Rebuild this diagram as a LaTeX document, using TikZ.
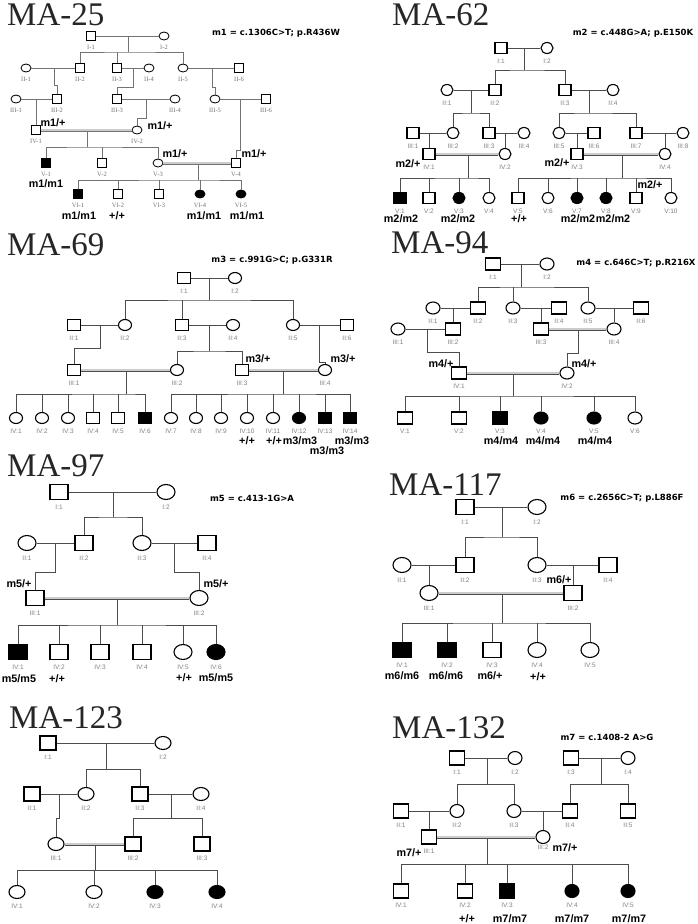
\documentclass[tikz,border=0pt]{standalone}
\usepackage{fontspec}
\setmainfont{Liberation Serif}
\newfontfamily\labsans{Liberation Sans}
\newfontfamily\mutsans{DejaVu Sans}
\usetikzlibrary{shapes.geometric,positioning}

% symbol sizes, set again in every pedigree
\def\sw{12pt}\def\sh{11pt}\def\cw{12pt}\def\ch{11pt}

\tikzset{
  ped/.style={draw=black, line width=1.1pt, inner sep=0pt},
  msq/.style={ped, rectangle, minimum width=\sw, minimum height=\sh},
  fcir/.style={ped, ellipse, minimum width=\cw, minimum height=\ch},
  aff/.style={fill=black},
  link/.style={draw=black!70, line width=0.9pt},
  dbl/.style={link, double=black!20, double distance=1.6pt, line width=0.7pt},
  gen/.style={font=\labsans\fontsize{6.5}{7}\selectfont, text=black!50, inner sep=0.5pt},
  genA/.style={font=\fontsize{6.5}{7}\selectfont, text=black!55, inner sep=0.5pt},
  geno/.style={font=\labsans\bfseries\fontsize{10.8}{12}\selectfont, inner sep=0pt},
  mut/.style={font=\mutsans\bfseries\fontsize{8.5}{10}\selectfont, inner sep=0pt},
  ptitle/.style={font=\fontsize{33}{34}\selectfont, text=black!85, inner sep=0pt, anchor=base west},
  every label/.style={gen}
}

\begin{document}
\begin{tikzpicture}[x=1pt, y=-1pt, label distance=4pt]
\useasboundingbox (0,0) rectangle (697,924);
\fill[white] (0,0) rectangle (697,924);

% MA-25
\begin{scope}[every label/.style={genA}, ped/.append style={line width=0.8pt}, link/.append style={draw=black!55, line width=0.7pt}]
\def\sw{8.5pt}\def\sh{8.5pt}\def\cw{10pt}\def\ch{8pt}
\node[ptitle] (tA) at (7,25) {MA-25};
\node[mut] (mA) at (276,33) {m1 = c.1306C>T; p.R436W};
\node[msq, label=below:{I-1}] (AI1) at (91,36) {};
\node[fcir, label=below:{I-2}] (AI2) at (164,36) {};
\node[fcir, label=below:{II-1}] (AII1) at (26,68) {};
\node[msq, label=below:{II-2}] (AII2) at (80,68) {};
\node[msq, label=below:{II-3}] (AII3) at (117,68) {};
\node[fcir, label=below:{II-4}] (AII4) at (149,68) {};
\node[fcir, label=below:{II-5}] (AII5) at (183,68) {};
\node[msq, label=below:{II-6}] (AII6) at (239,68) {};
\node[fcir, label=below:{III-1}] (AIII1) at (16,99) {};
\node[msq, label=below:{III-2}] (AIII2) at (57,99) {};
\node[msq, label=below:{III-3}] (AIII3) at (117,99) {};
\node[fcir, label=below:{III-4}] (AIII4) at (175,99) {};
\node[fcir, label=below:{III-5}] (AIII5) at (215,99) {};
\node[msq, label=below:{III-6}] (AIII6) at (266,99) {};
\node[msq, label=below:{IV-1}] (AIV1) at (36,130) {};
\node[fcir, label=below:{IV-2}] (AIV2) at (137,130) {};
\node[msq, aff, label=below:{V-1}] (AV1) at (46,163) {};
\node[msq, label=below:{V-2}] (AV2) at (102,163) {};
\node[fcir, label=below:{V-3}] (AV3) at (158,163) {};
\node[msq, label=below:{V-4}] (AV4) at (236,163) {};
\node[msq, aff, label=below:{VI-1}] (AVI1) at (78,194) {};
\node[msq, label=below:{VI-2}] (AVI2) at (118,194) {};
\node[msq, label=below:{VI-3}] (AVI3) at (159,194) {};
\node[fcir, aff, label=below:{VI-4}] (AVI4) at (200,194) {};
\node[fcir, aff, label=below:{VI-5}] (AVI5) at (241,194) {};
\coordinate (Am1) at (128,36); \coordinate (As1) at (128,52);
\coordinate (Am2) at (54,68); \coordinate (Aj2) at (54,85);
\coordinate (Am3) at (133,68); \coordinate (Aj3) at (133,87);
\coordinate (Am4) at (212,68); \coordinate (Aj4) at (212,87);
\coordinate (Am5) at (36,99);
\coordinate (Am6) at (146,99); \coordinate (Aj6) at (146,118);
\coordinate (Am7) at (240,99); \coordinate (Aj7) at (240,150);
\coordinate (Am8) at (87,130); \coordinate (As8) at (87,147);
\coordinate (Am9) at (198,163); \coordinate (As9) at (198,180);
\draw[link] (AI1) -- (AI2);
\draw[link] (Am1) -- (As1);
\draw[link] (AII2.north) |- (As1) -| (AII5.north);
\draw[link] (AII3.north) -- (AII3.north |- As1);
\draw[link] (AII1) -- (AII2);
\draw[link] (Am2) -- (Aj2) -| (AIII2);
\draw[link] (AII3) -- (AII4);
\draw[link] (Am3) -- (Aj3) -| (AIII3);
\draw[link] (AII5) -- (AII6);
\draw[link] (Am4) -- (Aj4) -| (AIII5);
\draw[link] (AIII1) -- (AIII2);
\draw[link] (Am5) -- (AIV1);
\draw[link] (AIII3) -- (AIII4);
\draw[link] (Am6) -- (Aj6) -| (AIV2);
\draw[link] (AIII5) -- (AIII6);
\draw[link] (Am7) -- (Aj7) -| (AV4);
\draw[link] (Am8) -- (As8);
\draw[link] (AV1.north) |- (As8) -| (AV3.north);
\draw[link] (AV2.north) -- (AV2.north |- As8);
\draw[link] (Am9) -- (As9);
\draw[link] (AVI1.north) |- (As9) -| (AVI5.north);
\foreach \k in {AVI2,AVI3,AVI4} \draw[link] (\k.north) -- (\k.north |- As9);
\draw[dbl] (AIV1) -- (AIV2);
\draw[dbl] (AV3) -- (AV4);
\node[geno] (gA1) at (53,123) {m1/+};
\node[geno] (gA2) at (160,126) {m1/+};
\node[geno] (gA3) at (175,154) {m1/+};
\node[geno] (gA4) at (254,154) {m1/+};
\node[geno] (gA5) at (46,184) {m1/m1};
\node[geno] (gA6) at (79,216) {m1/m1};
\node[geno] (gA7) at (117,216) {+/+};
\node[geno] (gA8) at (204,216) {m1/m1};
\node[geno] (gA9) at (247,216) {m1/m1};
\end{scope}

% MA-62
\begin{scope}
\def\sw{12pt}\def\sh{11pt}\def\cw{12pt}\def\ch{11pt}
\node[ptitle] (tB) at (392,25) {MA-62};
\node[mut] (mB) at (633,33) {m2 = c.448G>A; p.E150K};
\node[msq, label=below:{I:1}] (BI1) at (501,48) {};
\node[fcir, label=below:{I:2}] (BI2) at (547,48) {};
\node[fcir, label=below:{II:1}] (BII1) at (447,90) {};
\node[msq, label=below:{II:2}] (BII2) at (495,90) {};
\node[msq, label=below:{II:3}] (BII3) at (565,90) {};
\node[fcir, label=below:{II:4}] (BII4) at (613,90) {};
\node[msq, label=below:{III:1}] (BIII1) at (413,133) {};
\node[fcir, label=below:{III:2}] (BIII2) at (453,133) {};
\node[msq, label=below:{III:3}] (BIII3) at (489,133) {};
\node[fcir, label=below:{III:4}] (BIII4) at (524,133) {};
\node[fcir, label=below:{III:5}] (BIII5) at (559,133) {};
\node[msq, label=below:{III:6}] (BIII6) at (594,133) {};
\node[msq, label=below:{III:7}] (BIII7) at (636,133) {};
\node[fcir, label=below:{III:8}] (BIII8) at (683,133) {};
\node[msq, label=below:{IV:1}] (BIV1) at (429,154) {};
\node[fcir, label=below:{IV:2}] (BIV2) at (505,154) {};
\node[msq, label=below:{IV:3}] (BIV3) at (577,154) {};
\node[fcir, label=below:{IV:4}] (BIV4) at (665,154) {};
\node[msq, aff, label=below:{V:1}] (BV1) at (400,198) {};
\node[msq, label=below:{V:2}] (BV2) at (429,198) {};
\node[fcir, aff, label=below:{V:3}] (BV3) at (459,198) {};
\node[fcir, label=below:{V:4}] (BV4) at (489,198) {};
\node[msq, label=below:{V:5}] (BV5) at (518,198) {};
\node[fcir, label=below:{V:6}] (BV6) at (548,198) {};
\node[fcir, aff, label=below:{V:7}] (BV7) at (577,198) {};
\node[fcir, aff, label=below:{V:8}] (BV8) at (606,198) {};
\node[msq, label=below:{V:9}] (BV9) at (636,198) {};
\node[fcir, label=below:{V:10}] (BV10) at (671,198) {};
\coordinate (Bm1) at (524,48); \coordinate (Bs1) at (524,70);
\coordinate (Bm2) at (471,90); \coordinate (Bs2) at (471,113);
\coordinate (Bm3) at (589,90); \coordinate (Bs3) at (589,113);
\coordinate (Bm4) at (429,133);
\coordinate (Bm5) at (505,133);
\coordinate (Bm6) at (577,133);
\coordinate (Bm7) at (665,133);
\coordinate (Bm8) at (468,154); \coordinate (Bs8) at (468,178);
\coordinate (Bm9) at (622,154); \coordinate (Bs9) at (622,178);
\draw[link] (BI1) -- (BI2);
\draw[link] (Bm1) -- (Bs1);
\draw[link] (BII2.north) |- (Bs1) -| (BII3.north);
\draw[link] (BII1) -- (BII2);
\draw[link] (Bm2) -- (Bs2);
\draw[link] (BIII2.north) |- (Bs2) -| (BIII3.north);
\draw[link] (BII3) -- (BII4);
\draw[link] (Bm3) -- (Bs3);
\draw[link] (BIII5.north) |- (Bs3) -| (BIII7.north);
\draw[link] (BIII1) -- (BIII2);
\draw[link] (Bm4) -- (BIV1);
\draw[link] (BIII3) -- (BIII4);
\draw[link] (Bm5) -- (BIV2);
\draw[link] (BIII5) -- (BIII6);
\draw[link] (Bm6) -- (BIV3);
\draw[link] (BIII7) -- (BIII8);
\draw[link] (Bm7) -- (BIV4);
\draw[link] (Bm8) -- (Bs8);
\draw[link] (BV1.north) |- (Bs8) -| (BV4.north);
\foreach \k in {BV2,BV3} \draw[link] (\k.north) -- (\k.north |- Bs8);
\draw[link] (Bm9) -- (Bs9);
\draw[link] (BV5.north) |- (Bs9) -| (BV10.north);
\foreach \k in {BV6,BV7,BV8,BV9} \draw[link] (\k.north) -- (\k.north |- Bs9);
\draw[dbl] (BIV1) -- (BIV2);
\draw[dbl] (BIV3) -- (BIV4);
\node[geno] (gB1) at (408,164) {m2/+};
\node[geno] (gB2) at (557,163) {m2/+};
\node[geno] (gB3) at (650,185) {m2/+};
\node[geno] (gB4) at (401,219) {m2/m2};
\node[geno] (gB5) at (458,219) {m2/m2};
\node[geno] (gB6) at (519,219) {+/+};
\node[geno] (gB7) at (578,219) {m2/m2};
\node[geno] (gB8) at (613,219) {m2/m2};
\end{scope}

% MA-69
\begin{scope}
\def\sw{13pt}\def\sh{11pt}\def\cw{13pt}\def\ch{11pt}
\node[ptitle] (tC) at (7,255) {MA-69};
\node[mut] (mC) at (272,260) {m3 = c.991G>C; p.G331R};
\node[msq, label=below:{I:1}] (CI1) at (184,278) {};
\node[fcir, label=below:{I:2}] (CI2) at (235,278) {};
\node[msq, label=below:{II:1}] (CII1) at (74,325) {};
\node[fcir, label=below:{II:2}] (CII2) at (125,325) {};
\node[msq, label=below:{II:3}] (CII3) at (182,325) {};
\node[fcir, label=below:{II:4}] (CII4) at (233,325) {};
\node[fcir, label=below:{II:5}] (CII5) at (293,325) {};
\node[msq, label=below:{II:6}] (CII6) at (347,325) {};
\node[msq, label=below:{III:1}] (CIII1) at (74,370) {};
\node[fcir, label=below:{III:2}] (CIII2) at (177,370) {};
\node[msq, label=below:{III:3}] (CIII3) at (242,370) {};
\node[fcir, label=below:{III:4}] (CIII4) at (325,370) {};
\node[fcir, label=below:{IV:1}] (CIV1) at (16,418) {};
\node[fcir, label=below:{IV:2}] (CIV2) at (42,418) {};
\node[fcir, label=below:{IV:3}] (CIV3) at (68,418) {};
\node[msq, label=below:{IV:4}] (CIV4) at (93,418) {};
\node[msq, label=below:{IV:5}] (CIV5) at (118,418) {};
\node[msq, aff, label=below:{IV:6}] (CIV6) at (145,418) {};
\node[fcir, label=below:{IV:7}] (CIV7) at (171,418) {};
\node[fcir, label=below:{IV:8}] (CIV8) at (196,418) {};
\node[fcir, label=below:{IV:9}] (CIV9) at (221,418) {};
\node[fcir, label=below:{IV:10}] (CIV10) at (247,418) {};
\node[fcir, label=below:{IV:11}] (CIV11) at (273,418) {};
\node[fcir, aff, label=below:{IV:12}] (CIV12) at (299,418) {};
\node[msq, aff, label=below:{IV:13}] (CIV13) at (325,418) {};
\node[msq, aff, label=below:{IV:14}] (CIV14) at (350,418) {};
\coordinate (Cm1) at (209,278); \coordinate (Cs1) at (209,300);
\coordinate (Cm2) at (100,325); \coordinate (Cj2) at (100,348);
\coordinate (Cm3) at (209,325); \coordinate (Cs3) at (209,351);
\coordinate (Cm4) at (319,325); \coordinate (Cj4) at (319,362);
\coordinate (Cm5) at (126,370); \coordinate (Cs5) at (126,394);
\coordinate (Cm6) at (283,370); \coordinate (Cs6) at (283,394);
\draw[link] (CI1) -- (CI2);
\draw[link] (Cm1) -- (Cs1);
\draw[link] (CII2.north) |- (Cs1) -| (CII5.north);
\draw[link] (CII3.north) -- (CII3.north |- Cs1);
\draw[link] (CII1) -- (CII2);
\draw[link] (Cm2) -- (Cj2) -| (CIII1);
\draw[link] (CII3) -- (CII4);
\draw[link] (Cm3) -- (Cs3);
\draw[link] (CIII2.north) |- (Cs3) -| (CIII3.north);
\draw[link] (CII5) -- (CII6);
\draw[link] (Cm4) -- (Cj4) -| (CIII4);
\draw[link] (Cm5) -- (Cs5);
\draw[link] (CIV1.north) |- (Cs5) -| (CIV6.north);
\foreach \k in {CIV2,CIV3,CIV4,CIV5} \draw[link] (\k.north) -- (\k.north |- Cs5);
\draw[link] (Cm6) -- (Cs6);
\draw[link] (CIV7.north) |- (Cs6) -| (CIV14.north);
\foreach \k in {CIV8,CIV9,CIV10,CIV11,CIV12,CIV13} \draw[link] (\k.north) -- (\k.north |- Cs6);
\draw[dbl] (CIII1) -- (CIII2);
\draw[dbl] (CIII3) -- (CIII4);
\node[geno] (gC1) at (258,359) {m3/+};
\node[geno] (gC2) at (343,359) {m3/+};
\node[geno] (gC3) at (247,441) {+/+};
\node[geno] (gC4) at (274,441) {+/+};
\node[geno] (gC5) at (300,441) {m3/m3};
\node[geno] (gC6) at (352,441) {m3/m3};
\node[geno] (gC7) at (327,451) {m3/m3};
\end{scope}

% MA-94
\begin{scope}
\def\sw{15pt}\def\sh{12pt}\def\cw{14pt}\def\ch{12pt}
\node[ptitle] (tD) at (391,253) {MA-94};
\node[mut] (mD) at (636,263) {m4 = c.646C>T; p.R216X};
\node[msq, label=below:{I:1}] (DI1) at (493,264) {};
\node[fcir, label=below:{I:2}] (DI2) at (547,264) {};
\node[fcir, label=below:{II:1}] (DII1) at (433,308) {};
\node[msq, label=below:{II:2}] (DII2) at (478,308) {};
\node[fcir, label=below:{II:3}] (DII3) at (513,308) {};
\node[msq, label=below:{II:4}] (DII4) at (559,308) {};
\node[fcir, label=below:{II:5}] (DII5) at (588,308) {};
\node[msq, label=below:{II:6}] (DII6) at (641,308) {};
\node[fcir, label=below:{III:1}] (DIII1) at (398,329) {};
\node[msq, label=below:{III:2}] (DIII2) at (453,329) {};
\node[msq, label=below:{III:3}] (DIII3) at (541,329) {};
\node[fcir, label=below:{III:4}] (DIII4) at (614,329) {};
\node[msq, label=below:{IV:1}] (DIV1) at (459,373) {};
\node[fcir, label=below:{IV:2}] (DIV2) at (567,373) {};
\node[msq, label=below:{V:1}] (DV1) at (405,418) {};
\node[msq, label=below:{V:2}] (DV2) at (459,418) {};
\node[msq, aff, label=below:{V:3}] (DV3) at (500,418) {};
\node[fcir, aff, label=below:{V:4}] (DV4) at (541,418) {};
\node[fcir, aff, label=below:{V:5}] (DV5) at (594,418) {};
\node[fcir, label=below:{V:6}] (DV6) at (635,418) {};
\coordinate (Dm1) at (521,264); \coordinate (Ds1) at (521,287);
\coordinate (Dm2) at (453,308);
\coordinate (Dm3) at (541,308);
\coordinate (Dm4) at (614,308);
\coordinate (Dm5) at (427,329); \coordinate (Dj5) at (427,352);
\coordinate (Dm6) at (578,329); \coordinate (Dj6) at (578,353);
\coordinate (Dm7) at (513,373); \coordinate (Ds7) at (513,396);
\draw[link] (DI1) -- (DI2);
\draw[link] (Dm1) -- (Ds1);
\draw[link] (DII2.north) |- (Ds1) -| (DII5.north);
\draw[link] (DII3.north) -- (DII3.north |- Ds1);
\draw[link] (DII1) -- (DII2);
\draw[link] (Dm2) -- (DIII2);
\draw[link] (DII3) -- (DII4);
\draw[link] (Dm3) -- (DIII3);
\draw[link] (DII5) -- (DII6);
\draw[link] (Dm4) -- (DIII4);
\draw[link] (DIII1) -- (DIII2);
\draw[link] (Dm5) -- (Dj5) -| (DIV1);
\draw[link] (Dm6) -- (Dj6) -| (DIV2);
\draw[link] (Dm7) -- (Ds7);
\draw[link] (DV1.north) |- (Ds7) -| (DV6.north);
\foreach \k in {DV2,DV3,DV4,DV5} \draw[link] (\k.north) -- (\k.north |- Ds7);
\draw[dbl] (DIII3) -- (DIII4);
\draw[dbl] (DIV1) -- (DIV2);
\node[geno] (gD1) at (441,364) {m4/+};
\node[geno] (gD2) at (584,364) {m4/+};
\node[geno] (gD3) at (501,441) {m4/m4};
\node[geno] (gD4) at (543,441) {m4/m4};
\node[geno] (gD5) at (595,441) {m4/m4};
\end{scope}

% MA-97
\begin{scope}
\def\sw{18pt}\def\sh{15pt}\def\cw{18pt}\def\ch{15pt}
\node[ptitle] (tE) at (7,476) {MA-97};
\node[mut] (mE) at (252,498) {m5 = c.413-1G>A};
\node[msq, label=below:{I:1}] (EI1) at (59,492) {};
\node[fcir, label=below:{I:2}] (EI2) at (166,492) {};
\node[fcir, label=below:{II:1}] (EII1) at (27,543) {};
\node[msq, label=below:{II:2}] (EII2) at (84,543) {};
\node[fcir, label=below:{II:3}] (EII3) at (142,543) {};
\node[msq, label=below:{II:4}] (EII4) at (207,543) {};
\node[msq, label=below:{III:1}] (EIII1) at (35,598) {};
\node[fcir, label=below:{III:2}] (EIII2) at (199,598) {};
\node[msq, aff, label=below:{IV:1}] (EIV1) at (18,652) {};
\node[msq, label=below:{IV:2}] (EIV2) at (59,652) {};
\node[msq, label=below:{IV:3}] (EIV3) at (100,652) {};
\node[msq, label=below:{IV:4}] (EIV4) at (142,652) {};
\node[fcir, label=below:{IV:5}] (EIV5) at (183,652) {};
\node[fcir, aff, label=below:{IV:6}] (EIV6) at (216,652) {};
\coordinate (Em1) at (113,492); \coordinate (Es1) at (113,517);
\coordinate (Em2) at (55,543); \coordinate (Ej2) at (55,572);
\coordinate (Em3) at (174,543); \coordinate (Ej3) at (174,572);
\coordinate (Em4) at (117,598); \coordinate (Es4) at (117,625);
\draw[link] (EI1) -- (EI2);
\draw[link] (Em1) -- (Es1);
\draw[link] (EII2.north) |- (Es1) -| (EII3.north);
\draw[link] (EII1) -- (EII2);
\draw[link] (Em2) -- (Ej2) -| (EIII1);
\draw[link] (EII3) -- (EII4);
\draw[link] (Em3) -- (Ej3) -| (EIII2);
\draw[link] (Em4) -- (Es4);
\draw[link] (EIV1.north) |- (Es4) -| (EIV6.north);
\foreach \k in {EIV2,EIV3,EIV4,EIV5} \draw[link] (\k.north) -- (\k.north |- Es4);
\draw[dbl] (EIII1) -- (EIII2);
\node[geno] (gE1) at (19,584) {m5/+};
\node[geno] (gE2) at (216,584) {m5/+};
\node[geno] (gE3) at (19,679) {m5/m5};
\node[geno] (gE4) at (57,679) {+/+};
\node[geno] (gE5) at (184,678) {+/+};
\node[geno] (gE6) at (216,678) {m5/m5};
\end{scope}

% MA-117
\begin{scope}
\def\sw{18pt}\def\sh{15pt}\def\cw{18pt}\def\ch{15pt}
\node[ptitle] (tF) at (389,495) {MA-117};
\node[mut] (mF) at (622,498) {m6 = c.2656C>T; p.L886F};
\node[msq, label=below:{I:1}] (FI1) at (465,507) {};
\node[fcir, label=below:{I:2}] (FI2) at (537,507) {};
\node[fcir, label=below:{II:1}] (FII1) at (402,565) {};
\node[msq, label=below:{II:2}] (FII2) at (465,565) {};
\node[fcir, label=below:{II:3}] (FII3) at (537,565) {};
\node[msq, label=below:{II:4}] (FII4) at (608,565) {};
\node[fcir, label=below:{III:1}] (FIII1) at (429,593) {};
\node[msq, label=below:{III:2}] (FIII2) at (573,593) {};
\node[msq, aff, label=below:{IV:1}] (FIV1) at (402,650) {};
\node[msq, aff, label=below:{IV:2}] (FIV2) at (447,650) {};
\node[msq, label=below:{IV:3}] (FIV3) at (492,650) {};
\node[fcir, label=below:{IV:4}] (FIV4) at (537,650) {};
\node[fcir, label=below:{IV:5}] (FIV5) at (590,650) {};
\coordinate (Fm1) at (502,507); \coordinate (Fs1) at (502,537);
\coordinate (Fm2) at (429,565);
\coordinate (Fm3) at (573,565);
\coordinate (Fm4) at (502,593); \coordinate (Fs4) at (502,623);
\draw[link] (FI1) -- (FI2);
\draw[link] (Fm1) -- (Fs1);
\draw[link] (FII2.north) |- (Fs1) -| (FII3.north);
\draw[link] (FII1) -- (FII2);
\draw[link] (Fm2) -- (FIII1);
\draw[link] (FII3) -- (FII4);
\draw[link] (Fm3) -- (FIII2);
\draw[link] (Fm4) -- (Fs4);
\draw[link] (FIV1.north) |- (Fs4) -| (FIV5.north);
\foreach \k in {FIV2,FIV3,FIV4} \draw[link] (\k.north) -- (\k.north |- Fs4);
\draw[dbl] (FIII1) -- (FIII2);
\node[geno] (gF1) at (559,580) {m6/+};
\node[geno] (gF2) at (402,676) {m6/m6};
\node[geno] (gF3) at (446,676) {m6/m6};
\node[geno] (gF4) at (490,676) {m6/+};
\node[geno] (gF5) at (538,677) {+/+};
\end{scope}

% MA-123
\begin{scope}
\def\sw{16pt}\def\sh{14pt}\def\cw{16pt}\def\ch{13pt}
\node[ptitle] (tG) at (9,728) {MA-123};
\node[msq, label=below:{I:1}] (GI1) at (48,743) {};
\node[fcir, label=below:{I:2}] (GI2) at (163,743) {};
\node[msq, label=below:{II:1}] (GII1) at (32,794) {};
\node[fcir, label=below:{II:2}] (GII2) at (86,794) {};
\node[msq, label=below:{II:3}] (GII3) at (140,794) {};
\node[fcir, label=below:{II:4}] (GII4) at (201,794) {};
\node[fcir, label=below:{III:1}] (GIII1) at (56,844) {};
\node[msq, label=below:{III:2}] (GIII2) at (133,844) {};
\node[msq, label=below:{III:3}] (GIII3) at (202,844) {};
\node[fcir, label=below:{IV:1}] (GIV1) at (17,892) {};
\node[fcir, label=below:{IV:2}] (GIV2) at (94,892) {};
\node[fcir, aff, label=below:{IV:3}] (GIV3) at (155,892) {};
\node[fcir, aff, label=below:{IV:4}] (GIV4) at (217,892) {};
\coordinate (Gm1) at (106,743); \coordinate (Gs1) at (106,769);
\coordinate (Gm2) at (59,794); \coordinate (Gj2) at (59,818);
\coordinate (Gm3) at (171,794); \coordinate (Gs3) at (171,818);
\coordinate (Gm4) at (95,844); \coordinate (Gs4) at (95,870);
\draw[link] (GI1) -- (GI2);
\draw[link] (Gm1) -- (Gs1);
\draw[link] (GII2.north) |- (Gs1) -| (GII3.north);
\draw[link] (GII1) -- (GII2);
\draw[link] (Gm2) -- (Gj2) -| (GIII1);
\draw[link] (GII3) -- (GII4);
\draw[link] (Gm3) -- (Gs3);
\draw[link] (GIII2.north) |- (Gs3) -| (GIII3.north);
\draw[link] (Gm4) -- (Gs4);
\draw[link] (GIV1.north) |- (Gs4) -| (GIV4.north);
\foreach \k in {GIV2,GIV3} \draw[link] (\k.north) -- (\k.north |- Gs4);
\draw[dbl] (GIII1) -- (GIII2);
\end{scope}

% MA-132
\begin{scope}
\def\sw{15pt}\def\sh{14pt}\def\cw{14pt}\def\ch{13pt}
\node[ptitle] (tH) at (392,738) {MA-132};
\node[mut] (mH) at (607,737) {m7 = c.1408-2 A>G};
\node[msq, label=below:{I:1}] (HI1) at (457,758) {};
\node[fcir, label=below:{I:2}] (HI2) at (515,758) {};
\node[msq, label=below:{I:3}] (HI3) at (571,758) {};
\node[fcir, label=below:{I:4}] (HI4) at (628,758) {};
\node[msq, label=below:{II:1}] (HII1) at (401,811) {};
\node[fcir, label=below:{II:2}] (HII2) at (457,811) {};
\node[fcir, label=below:{II:3}] (HII3) at (514,811) {};
\node[msq, label=below:{II:4}] (HII4) at (570,811) {};
\node[msq, label=below:{II:5}] (HII5) at (628,811) {};
\node[msq, label=below:{III:1}] (HIII1) at (429,837) {};
\node[fcir, label={[label distance=0.5pt]below:{III:2}}] (HIII2) at (543,837) {};
\node[msq, label=below:{IV:1}] (HIV1) at (401,891) {};
\node[msq, label=below:{IV:2}] (HIV2) at (465,891) {};
\node[msq, aff, label=below:{IV:3}] (HIV3) at (507,891) {};
\node[fcir, aff, label=below:{IV:4}] (HIV4) at (572,891) {};
\node[fcir, aff, label=below:{IV:5}] (HIV5) at (628,891) {};
\coordinate (Hm1) at (487,758); \coordinate (Hs1) at (487,784);
\coordinate (Hm2) at (601,758); \coordinate (Hs2) at (601,784);
\coordinate (Hm3) at (429,811);
\coordinate (Hm4) at (543,811);
\coordinate (Hm5) at (487,837); \coordinate (Hs5) at (487,864);
\draw[link] (HI1) -- (HI2);
\draw[link] (Hm1) -- (Hs1);
\draw[link] (HII2.north) |- (Hs1) -| (HII3.north);
\draw[link] (HI3) -- (HI4);
\draw[link] (Hm2) -- (Hs2);
\draw[link] (HII4.north) |- (Hs2) -| (HII5.north);
\draw[link] (HII1) -- (HII2);
\draw[link] (Hm3) -- (HIII1);
\draw[link] (HII3) -- (HII4);
\draw[link] (Hm4) -- (HIII2);
\draw[link] (Hm5) -- (Hs5);
\draw[link] (HIV1.north) |- (Hs5) -| (HIV5.north);
\foreach \k in {HIV2,HIV3,HIV4} \draw[link] (\k.north) -- (\k.north |- Hs5);
\draw[dbl] (HIII1) -- (HIII2);
\node[geno] (gH1) at (409,853) {m7/+};
\node[geno] (gH2) at (565,848) {m7/+};
\node[geno] (gH3) at (467,919) {+/+};
\node[geno] (gH4) at (510,919) {m7/m7};
\node[geno] (gH5) at (572,919) {m7/m7};
\node[geno] (gH6) at (629,919) {m7/m7};
\end{scope}
\end{tikzpicture}
\end{document}
